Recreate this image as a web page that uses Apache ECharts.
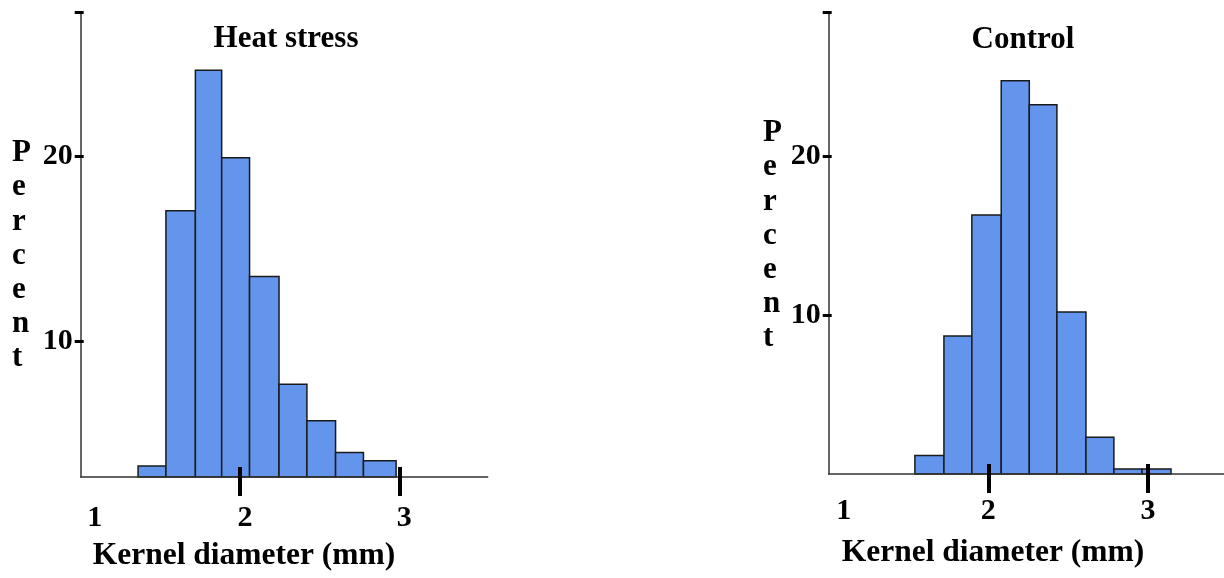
<!DOCTYPE html>
<html>
<head>
<meta charset="utf-8">
<script src="https://cdn.jsdelivr.net/npm/echarts@6/dist/echarts.min.js"></script>
<style>
  html, body { margin: 0; padding: 0; background: #fff; }
  #main { width: 1224px; height: 578px; }
</style>
</head>
<body>
<div id="main"></div>
<script>
// histogram bins: edges (mm) and percent per bin
var heatEdges = [1.36, 1.535, 1.72, 1.885, 2.06, 2.245, 2.42, 2.60, 2.775, 2.98];
var heatPct = [3.27, 17.04, 24.63, 19.9, 13.5, 7.69, 5.71, 4.0, 3.56];
var ctrlEdges = [1.54, 1.722, 1.897, 2.081, 2.257, 2.43, 2.612, 2.787, 2.963, 3.145];
var ctrlPct = [1.16, 8.68, 16.29, 24.74, 23.23, 10.19, 2.32, 0.32, 0.32];

var xLabels = [1, 2, 3];
var xTicks = [2, 3];
var yLabels = [10, 20];
var titles = ['Heat stress', 'Control'];
var xName = 'Kernel diameter (mm)';
var yName = 'Percent';

var serif = "'Liberation Serif', 'DejaVu Serif', serif";

function bins(edges, pct) {
    var out = [];
    for (var i = 0; i < pct.length; i++) {
        out.push([edges[i], edges[i + 1], pct[i]]);
    }
    return out;
}

function renderBar(params, api) {
    var p0 = api.coord([api.value(0), api.value(2)]);
    var p1 = api.coord([api.value(1), api.value(2)]);
    var base = params.coordSys.y + params.coordSys.height;
    return {
        type: 'rect',
        shape: { x: p0[0], y: p0[1], width: p1[0] - p0[0], height: base - p0[1] },
        style: { fill: '#6495ED', stroke: '#1a1a1a', lineWidth: 1.5 }
    };
}

// main x axis (line + outside part of tick + labels)
function xMain(grid, max, oneShift, otherShift, margin) {
    return {
        type: 'value', gridIndex: grid, min: 1, max: max, position: 'bottom', z: 5,
        splitLine: { show: false },
        axisLine: { show: true, lineStyle: { color: '#333', width: 1.5 } },
        axisTick: { show: true, customValues: xTicks, length: 19, lineStyle: { color: '#000', width: 4 } },
        axisLabel: {
            customValues: xLabels, margin: margin,
            formatter: function (v) { return v === 1 ? '{one|1}' : '{n|' + v + '}'; },
            rich: {
                one: { fontFamily: serif, fontWeight: 'bold', fontSize: 30, color: '#000', padding: [0, 0, 0, oneShift] },
                n: { fontFamily: serif, fontWeight: 'bold', fontSize: 30, color: '#000', padding: [0, 0, 0, otherShift] }
            }
        }
    };
}
// overlay x axis: inside part of tick
function xInner(grid, max) {
    return {
        type: 'value', gridIndex: grid, min: 1, max: max, position: 'bottom', z: 5,
        splitLine: { show: false }, axisLine: { show: false }, axisLabel: { show: false },
        axisTick: { show: true, inside: true, customValues: xTicks, length: 10, lineStyle: { color: '#000', width: 4 } }
    };
}
function yMain(grid, min, max) {
    return {
        type: 'value', gridIndex: grid, min: min, max: max, position: 'left', z: 5,
        splitLine: { show: false },
        axisLine: { show: true, lineStyle: { color: '#333', width: 1.5 } },
        axisTick: { show: true, customValues: [10, 20, max], length: 6, lineStyle: { color: '#000', width: 3 } },
        axisLabel: { customValues: yLabels, margin: 8, fontFamily: serif, fontWeight: 'bold', fontSize: 30, color: '#000' }
    };
}
function yInner(grid, min, max) {
    return {
        type: 'value', gridIndex: grid, min: min, max: max, position: 'left', z: 5,
        splitLine: { show: false }, axisLine: { show: false }, axisLabel: { show: false },
        axisTick: { show: true, inside: true, customValues: [10, 20, max], length: 3, lineStyle: { color: '#000', width: 3 } }
    };
}

function vertText(x, y) {
    return {
        type: 'text', left: x, top: y,
        style: {
            text: yName.split('').join('\n'), font: 'bold 31px ' + serif,
            fill: '#000', lineHeight: 34.2, align: 'center'
        }
    };
}
function nameText(cx, y) {
    return {
        type: 'text', x: cx, y: y,
        style: { text: xName, font: 'bold 31.5px ' + serif, fill: '#000', align: 'center', verticalAlign: 'middle' }
    };
}

var myChart = echarts.init(document.getElementById('main'));
var option = {
    animation: false,
    backgroundColor: '#fff',
    title: [
        { text: titles[0], left: 281, top: 18, textAlign: 'center', textStyle: { fontFamily: serif, fontWeight: 'bold', fontSize: 31, color: '#000' } },
        { text: titles[1], left: 1018, top: 19, textAlign: 'center', textStyle: { fontFamily: serif, fontWeight: 'bold', fontSize: 31, color: '#000' } }
    ],
    grid: [
        { left: 80.7, top: 12, width: 407, height: 465 },
        { left: 828.7, top: 12, right: 0, height: 462 }
    ],
    xAxis: [xMain(0, 3.555, 28, 10, 26), xInner(0, 3.555), xMain(1, 3.477, 30, 0, 22), xInner(1, 3.477)],
    yAxis: [yMain(0, 2.68, 27.77), yInner(0, 2.68, 27.77), yMain(1, 0, 29.07), yInner(1, 0, 29.07)],
    graphic: [
        vertText(12, 136),
        vertText(763, 116),
        nameText(244, 556),
        nameText(993, 553)
    ],
    series: [
        { type: 'custom', xAxisIndex: 0, yAxisIndex: 0, encode: { x: [0, 1], y: 2 }, data: bins(heatEdges, heatPct), renderItem: renderBar },
        { type: 'custom', xAxisIndex: 2, yAxisIndex: 2, encode: { x: [0, 1], y: 2 }, data: bins(ctrlEdges, ctrlPct), renderItem: renderBar }
    ]
};
myChart.setOption(option);
</script>
</body>
</html>
